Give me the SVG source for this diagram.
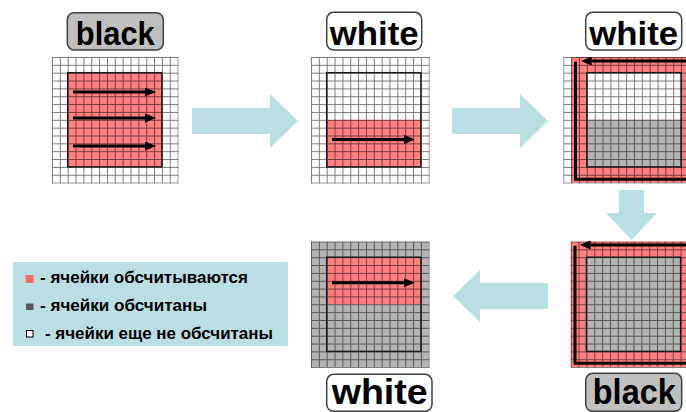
<svg xmlns="http://www.w3.org/2000/svg" width="686" height="412" viewBox="0 0 686 412">
<defs>
<pattern id="cells" width="7.85" height="7.85" patternUnits="userSpaceOnUse">
<path d="M0 0.5H7.85M0.5 0V7.85" stroke="#000" stroke-opacity="0.52" stroke-width="1" fill="none"/>
</pattern>
<marker id="ah" markerUnits="userSpaceOnUse" markerWidth="11" markerHeight="9" refX="0" refY="4.5" orient="auto"><path d="M0,0 L11,4.5 L0,9 z" fill="#000"/></marker>
</defs>
<style>
.red{fill:#ff8080}
.gray{fill:#b3b3b3}
.white{fill:#fff}
.grid{fill:url(#cells)}
.box{fill:none;stroke:#1a1a1a;stroke-width:1.5}
.arr{fill:none;stroke:#000;stroke-width:3;marker-end:url(#ah)}
.path{fill:none;stroke:#000;stroke-width:3}
.lbl{stroke:#404040;stroke-width:1.5}
.lt{font-family:"Liberation Sans",Arial,sans-serif;font-weight:bold;fill:#000;text-anchor:middle}
.blue{fill:#b9dfe3}
.leg{font-family:"Liberation Sans",Arial,sans-serif;font-weight:bold;font-size:17px;fill:#000}
</style>
<rect width="686" height="412" fill="#fff"/>

<g id="connectors">
<polygon class="blue" points="192,108 270,108 270,94 298,121 270,148 270,134 192,134"/>
<polygon class="blue" points="452,108 520,108 520,94 548,121 520,148 520,134 452,134"/>
<polygon class="blue" points="619,190 644,190 644,213 657,213 631.5,240 606,213 619,213"/>
<polygon class="blue" points="548,283 480,283 480,270 453,296 480,322 480,309 548,309"/>
</g>

<g id="grid1" transform="translate(52,57)">
<rect class="white" width="125.6" height="125.6"/>
<rect class="red" x="15.7" y="15.7" width="94.2" height="94.2"/>
<rect class="grid" width="126.6" height="126.6"/>
<rect class="box" x="15.7" y="15.7" width="94.2" height="94.2"/>
<path class="arr" d="M21 35H93"/>
<path class="arr" d="M21 61H93"/>
<path class="arr" d="M21 89H93"/>
</g>

<g id="grid2" transform="translate(311,57)">
<rect class="white" width="117.75" height="125.6"/>
<rect class="red" x="15.7" y="62.8" width="94.2" height="47.1"/>
<rect class="grid" width="118.75" height="126.6"/>
<rect class="box" x="15.7" y="15.7" width="94.2" height="94.2"/>
<path class="arr" d="M21 82.4H93"/>
</g>

<g id="grid3" transform="translate(563.3,57)">
<rect class="white" width="130" height="125.6"/>
<rect class="red" x="7.85" width="130" height="125.6"/>
<rect class="white" x="23.55" y="15.7" width="94.2" height="47.1"/>
<rect class="gray" x="23.55" y="62.8" width="94.2" height="47.1"/>
<rect class="grid" width="130" height="126.6"/>
<rect class="box" x="23.55" y="15.7" width="94.2" height="94.2"/>
<path class="path" d="M12.2 4.7V122.3H130"/>
<path class="arr" d="M130 4H28.4"/>
</g>

<g id="grid4" transform="translate(570.7,241.5)">
<rect class="red" width="120" height="125.6"/>
<rect class="gray" x="15.7" y="15.7" width="94.2" height="94.2"/>
<rect class="grid" width="120" height="126.6"/>
<rect class="box" x="15.7" y="15.7" width="94.2" height="94.2"/>
<path class="path" d="M4.3 4.2V121.8H120"/>
<path class="arr" d="M120 3.4H20"/>
</g>

<g id="grid5" transform="translate(311,241.5)">
<rect class="gray" width="117.75" height="125.6"/>
<rect class="red" x="15.7" y="15.7" width="94.2" height="47.1"/>
<rect class="grid" width="118.75" height="126.6"/>
<rect class="box" x="15.7" y="15.7" width="94.2" height="94.2"/>
<path class="arr" d="M21 41.2H93"/>
</g>

<g id="label1">
<rect class="lbl" x="67.3" y="12.7" width="96" height="37.3" rx="7" fill="#bfbfbf"/>
<text class="lt" x="115.3" y="45" font-size="33" textLength="79" lengthAdjust="spacingAndGlyphs">black</text>
</g>
<g id="label2">
<rect class="lbl" x="326.7" y="12.3" width="95" height="37.7" rx="7" fill="#fff"/>
<text class="lt" x="374.2" y="45" font-size="33" textLength="89" lengthAdjust="spacingAndGlyphs">white</text>
</g>
<g id="label3">
<rect class="lbl" x="585.7" y="12.3" width="96" height="37.7" rx="7" fill="#fff"/>
<text class="lt" x="633.7" y="45" font-size="33" textLength="89" lengthAdjust="spacingAndGlyphs">white</text>
</g>
<g id="label4">
<rect class="lbl" x="585.7" y="373.3" width="96" height="38" rx="7" fill="#bfbfbf"/>
<text class="lt" x="634.3" y="404" font-size="35" textLength="83" lengthAdjust="spacingAndGlyphs">black</text>
</g>
<g id="label5">
<rect class="lbl" x="326.7" y="374.3" width="105.3" height="37" rx="7" fill="#fff"/>
<text class="lt" x="379.7" y="404" font-size="35" textLength="96" lengthAdjust="spacingAndGlyphs">white</text>
</g>

<g id="legend">
<rect x="13" y="262" width="275" height="84" fill="#b9dfe3"/>
<rect x="25.5" y="275" width="8" height="8" fill="#ff6b6b"/>
<rect x="26" y="303.5" width="7.5" height="6.5" fill="#595959"/>
<rect x="26.5" y="330.5" width="6.5" height="6.5" fill="#fff" stroke="#000" stroke-width="1"/>
<text class="leg" x="40" y="282.5" textLength="208" lengthAdjust="spacingAndGlyphs">- ячейки обсчитываются</text>
<text class="leg" x="40" y="310.5" textLength="167" lengthAdjust="spacingAndGlyphs">- ячейки обсчитаны</text>
<text class="leg" x="45" y="338.5" textLength="228" lengthAdjust="spacingAndGlyphs">- ячейки еще не обсчитаны</text>
</g>
</svg>
